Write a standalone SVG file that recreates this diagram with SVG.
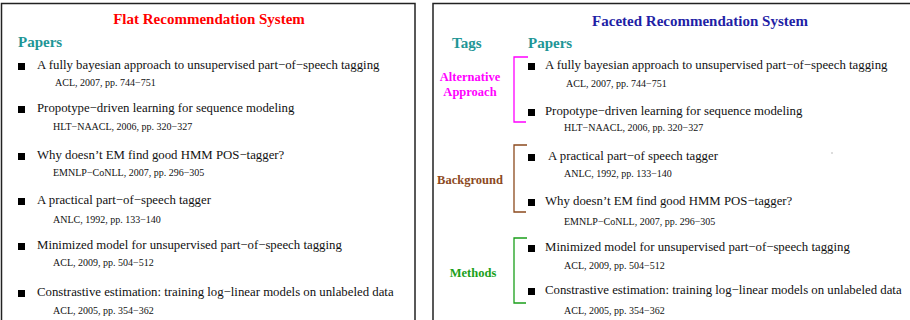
<svg xmlns="http://www.w3.org/2000/svg" width="910" height="320" viewBox="0 0 910 320">
<style>
text{font-family:"Liberation Serif","Times New Roman",serif;}
.frame{fill:#fff;stroke:#222;stroke-width:1.5;}
.title{font-size:15px;font-weight:bold;text-anchor:middle;}
.head{font-size:15px;font-weight:bold;fill:#1e9696;}
.item{font-size:12.8px;fill:#111;}
.cite{font-size:10px;fill:#111;}
.tag{font-size:12.5px;font-weight:bold;text-anchor:middle;}
.bul{fill:#000;}
.br{fill:none;stroke-width:1.3;}
</style>
<rect width="910" height="320" fill="#fff"/>
<g id="flat-panel">
<rect class="frame" x="1.5" y="3.5" width="413.5" height="330"/>
<text class="title" x="209" y="24" fill="#f00">Flat Recommendation System</text>
<text class="head" x="18" y="47">Papers</text>
</g>
<g id="flat-p1"><rect class="bul" x="18" y="63" width="7" height="7"/><text class="item" x="37" y="69">A fully bayesian approach to unsupervised part−of−speech tagging</text><text class="cite" x="55" y="86">ACL, 2007, pp. 744−751</text></g>
<g id="flat-p2"><rect class="bul" x="18" y="106" width="7" height="7"/><text class="item" x="37" y="112">Propotype−driven learning for sequence modeling</text><text class="cite" x="53" y="130">HLT−NAACL, 2006, pp. 320−327</text></g>
<g id="flat-p3"><rect class="bul" x="18" y="153" width="7" height="7"/><text class="item" x="37" y="159">Why doesn’t EM find good HMM POS−tagger?</text><text class="cite" x="53" y="176">EMNLP−CoNLL, 2007, pp. 296−305</text></g>
<g id="flat-p4"><rect class="bul" x="18" y="198" width="7" height="7"/><text class="item" x="37" y="204">A practical part−of−speech tagger</text><text class="cite" x="53" y="223">ANLC, 1992, pp. 133−140</text></g>
<g id="flat-p5"><rect class="bul" x="18" y="243" width="7" height="7"/><text class="item" x="37" y="249">Minimized model for unsupervised part−of−speech tagging</text><text class="cite" x="53" y="266">ACL, 2009, pp. 504−512</text></g>
<g id="flat-p6"><rect class="bul" x="18" y="290" width="7" height="7"/><text class="item" x="37" y="296">Constrastive estimation: training log−linear models on unlabeled data</text><text class="cite" x="53" y="314">ACL, 2005, pp. 354−362</text></g>

<g id="faceted-panel">
<rect class="frame" x="433" y="3.5" width="520" height="330"/>
<text class="title" x="700" y="26" fill="#1f1fa6">Faceted Recommendation System</text>
<text class="head" x="452" y="48">Tags</text>
<text class="head" x="528" y="48">Papers</text>
<rect x="831.5" y="152" width="1" height="2" fill="#bbb"/>
</g>
<g id="tag-alt"><text class="tag" x="470" y="81" fill="#f0f">Alternative</text><text class="tag" x="470" y="96" fill="#f0f">Approach</text></g>
<g id="tag-bg"><text class="tag" x="470" y="184" fill="#8c4a1e">Background</text></g>
<g id="tag-meth"><text class="tag" x="473" y="277" fill="#1a9f1a">Methods</text></g>
<g id="connectors">
<path class="br" stroke="#f0f" d="M528,57 H514 V122 H526"/>
<path class="br" stroke="#8c4a1e" d="M527,145 H514 V212 H526"/>
<path class="br" stroke="#1a9f1a" d="M527,238 H514 V303 H526"/>
</g>
<g id="fac-p1"><rect class="bul" x="528" y="63" width="7" height="7"/><text class="item" x="545" y="69">A fully bayesian approach to unsupervised part−of−speech tagging</text><text class="cite" x="566" y="87">ACL, 2007, pp. 744−751</text></g>
<g id="fac-p2"><rect class="bul" x="528" y="109" width="7" height="7"/><text class="item" x="545" y="115">Propotype−driven learning for sequence modeling</text><text class="cite" x="564" y="131">HLT−NAACL, 2006, pp. 320−327</text></g>
<g id="fac-p3"><rect class="bul" x="528" y="154" width="7" height="7"/><text class="item" x="548" y="160">A practical part−of speech tagger</text><text class="cite" x="564" y="177">ANLC, 1992, pp. 133−140</text></g>
<g id="fac-p4"><rect class="bul" x="528" y="199" width="7" height="7"/><text class="item" x="545" y="205">Why doesn’t EM find good HMM POS−tagger?</text><text class="cite" x="564" y="225">EMNLP−CoNLL, 2007, pp. 296−305</text></g>
<g id="fac-p5"><rect class="bul" x="528" y="245" width="7" height="7"/><text class="item" x="545" y="251">Minimized model for unsupervised part−of−speech tagging</text><text class="cite" x="564" y="269">ACL, 2009, pp. 504−512</text></g>
<g id="fac-p6"><rect class="bul" x="528" y="288" width="7" height="7"/><text class="item" x="545" y="294">Constrastive estimation: training log−linear models on unlabeled data</text><text class="cite" x="564" y="314">ACL, 2005, pp. 354−362</text></g>
</svg>
